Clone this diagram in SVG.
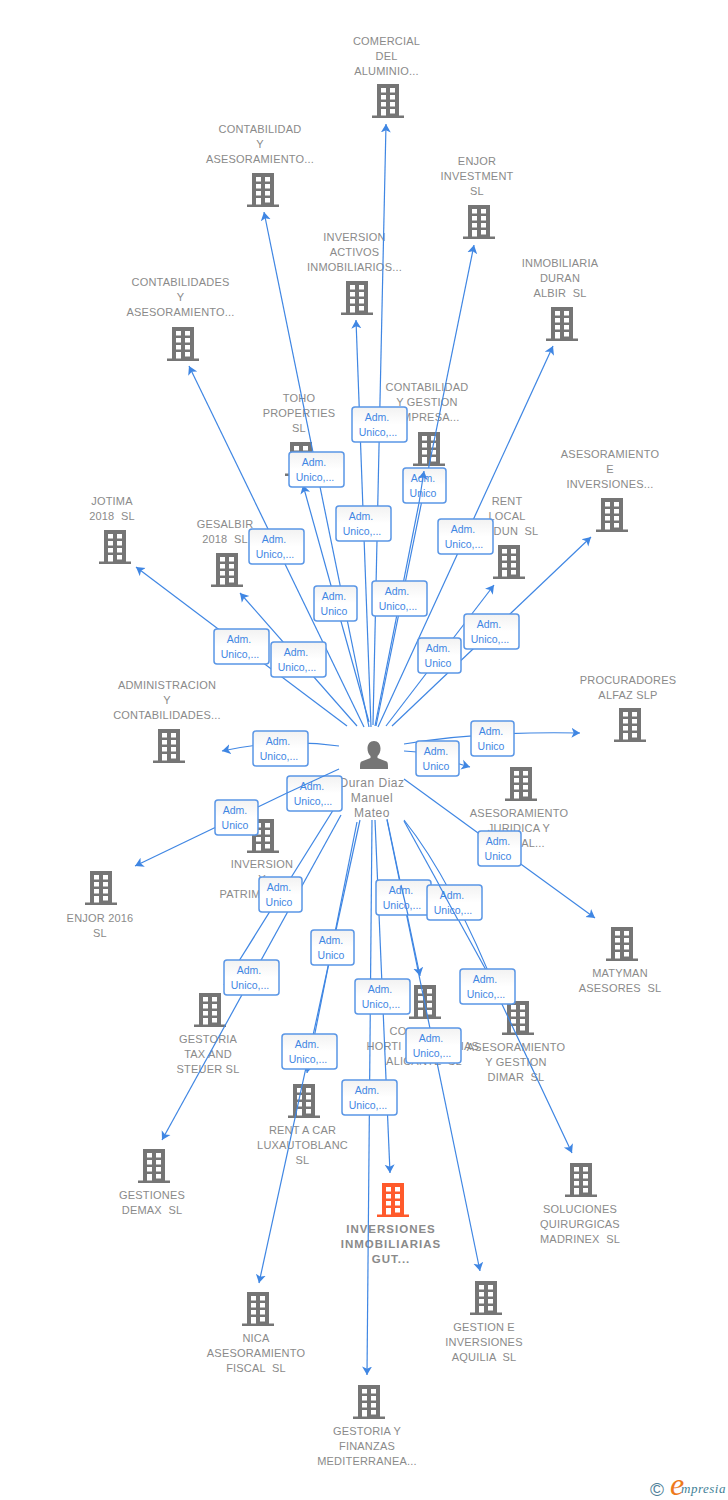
<svg xmlns="http://www.w3.org/2000/svg" width="728" height="1500" viewBox="0 0 728 1500">
<style>
.t{font-family:"Liberation Sans",Arial,sans-serif;font-size:11px;letter-spacing:.2px;fill:#8a8a8a;text-anchor:middle;white-space:pre}
.b{font-weight:bold;font-size:11.5px;letter-spacing:1px}
.p{font-size:12px;letter-spacing:.5px}
.c{fill:none;stroke:#3f86e3;stroke-width:1.2;marker-end:url(#a)}
.n{fill:none;stroke:#3f86e3;stroke-width:1.2}
.box{fill:url(#g);stroke:#5a96e6;stroke-width:1.5}
.l{font-family:"Liberation Sans",Arial,sans-serif;font-size:10.5px;fill:#3f86e3;text-anchor:middle}
.bg{fill:#757575}.w{fill:#fff}
</style>
<defs>
<linearGradient id="g" x1="0" y1="0" x2="0" y2="1"><stop offset="0" stop-color="#f2f2f2"/><stop offset=".5" stop-color="#fff"/><stop offset="1" stop-color="#fff"/></linearGradient>
<marker id="a" markerUnits="userSpaceOnUse" markerWidth="12" markerHeight="12" refX="8.500" refY="5.500" orient="auto"><path d="M0 .5L8.500 5.500L0 10.500L2.200 5.500Z" fill="#3f86e3"/></marker>
<g id="bd"><path d="M-11 0H11V31.500H16V34H-16V31.500H-11Z"/><path class="w" d="M-7 4h5v4.500h-5zM2 4h5v4.500h-5zM-7 11h5v4.500h-5zM2 11h5v4.500h-5zM-7 18h5v4.500h-5zM2 18h5v4.500h-5zM-7 25h5v6.500h-5zM2 25h5v4.500h-5z"/></g>
<g id="wb"><rect width="55" height="35" rx="3" class="box"/><text class="l" x="25" y="14">Adm.</text><text class="l" x="26" y="29">Unico,...</text></g>
<g id="nb"><rect width="43" height="35" rx="3" class="box"/><text class="l" x="20" y="14">Adm.</text><text class="l" x="20" y="29">Unico</text></g>
</defs>
<rect width="728" height="1500" fill="#fff"/>

<g id="nodes">
<g id="n1"><use href="#bd" class="bg" x="388" y="84"/><text class="t" x="386.500" y="45">COMERCIAL</text><text class="t" x="386.500" y="60">DEL</text><text class="t" x="386.500" y="75">ALUMINIO...</text></g>
<g id="n2"><use href="#bd" class="bg" x="263" y="173"/><text class="t" x="260" y="133">CONTABILIDAD</text><text class="t" x="260" y="148">Y</text><text class="t" x="260" y="163">ASESORAMIENTO...</text></g>
<g id="n3"><use href="#bd" class="bg" x="479" y="205"/><text class="t" x="477" y="165">ENJOR</text><text class="t" x="477" y="180">INVESTMENT</text><text class="t" x="477" y="195">SL</text></g>
<g id="n4"><use href="#bd" class="bg" x="357" y="281"/><text class="t" x="354.500" y="241">INVERSION</text><text class="t" x="354.500" y="256">ACTIVOS</text><text class="t" x="354.500" y="271">INMOBILIARIOS...</text></g>
<g id="n5"><use href="#bd" class="bg" x="562" y="307"/><text class="t" x="560" y="267">INMOBILIARIA</text><text class="t" x="560" y="282">DURAN</text><text class="t" x="560" y="297">ALBIR  SL</text></g>
<g id="n6"><use href="#bd" class="bg" x="183" y="327"/><text class="t" x="180.500" y="286">CONTABILIDADES</text><text class="t" x="180.500" y="301">Y</text><text class="t" x="180.500" y="316">ASESORAMIENTO...</text></g>
<g id="n7"><use href="#bd" class="bg" x="301" y="442"/><text class="t" x="299" y="402">TOHO</text><text class="t" x="299" y="417">PROPERTIES</text><text class="t" x="299" y="432">SL</text></g>
<g id="n8"><use href="#bd" class="bg" x="429" y="432"/><text class="t" x="427" y="391">CONTABILIDAD</text><text class="t" x="427" y="406">Y GESTION</text><text class="t" x="427" y="421">EMPRESA...</text></g>
<g id="n9"><use href="#bd" class="bg" x="612" y="498"/><text class="t" x="610" y="458">ASESORAMIENTO</text><text class="t" x="610" y="473">E</text><text class="t" x="610" y="488">INVERSIONES...</text></g>
<g id="n10"><use href="#bd" class="bg" x="509" y="545"/><text class="t" x="507" y="505">RENT</text><text class="t" x="507" y="520">LOCAL</text><text class="t" x="516" y="535">DUN  SL</text></g>
<g id="n11"><use href="#bd" class="bg" x="115" y="530"/><text class="t" x="112" y="505">JOTIMA</text><text class="t" x="112" y="520">2018  SL</text></g>
<g id="n12"><use href="#bd" class="bg" x="227" y="553"/><text class="t" x="225" y="528">GESALBIR</text><text class="t" x="225" y="543">2018  SL</text></g>
<g id="n13"><use href="#bd" class="bg" x="169" y="729"/><text class="t" x="167" y="689">ADMINISTRACION</text><text class="t" x="167" y="704">Y</text><text class="t" x="167" y="719">CONTABILIDADES...</text></g>
<g id="n14"><use href="#bd" class="bg" x="630" y="708"/><text class="t" x="628" y="684">PROCURADORES</text><text class="t" x="628" y="699">ALFAZ SLP</text></g>
<g id="n15"><use href="#bd" class="bg" x="521" y="767"/><text class="t" x="519" y="817">ASESORAMIENTO</text><text class="t" x="519" y="832">JURIDICA Y</text><text class="t" x="533" y="847">AL...</text></g>
<g id="n16"><use href="#bd" class="bg" x="263" y="819"/><text class="t" x="262" y="868">INVERSION</text><text class="t" x="262" y="883">Y</text><text class="t" x="240" y="898">PATRIM</text></g>
<g id="n17"><use href="#bd" class="bg" x="101" y="871"/><text class="t" x="100" y="922">ENJOR 2016</text><text class="t" x="100" y="937">SL</text></g>
<g id="n18"><use href="#bd" class="bg" x="622" y="927"/><text class="t" x="620" y="977">MATYMAN</text><text class="t" x="620" y="992">ASESORES  SL</text></g>
<g id="n19"><use href="#bd" class="bg" x="210" y="993"/><text class="t" x="208" y="1043">GESTORIA</text><text class="t" x="208" y="1058">TAX AND</text><text class="t" x="208" y="1073">STEUER SL</text></g>
<g id="n20"><use href="#bd" class="bg" x="425" y="985"/><text class="t" x="398" y="1035">CO</text><text class="t" x="384" y="1050">HORTI</text><text class="t" x="470" y="1050">IAS</text><text class="t" x="424" y="1065">ALICANTE  SL</text></g>
<g id="n21"><use href="#bd" class="bg" x="518" y="1001"/><text class="t" x="516" y="1051">ASESORAMIENTO</text><text class="t" x="516" y="1066">Y GESTION</text><text class="t" x="516" y="1081">DIMAR  SL</text></g>
<g id="n22"><use href="#bd" class="bg" x="304" y="1084"/><text class="t" x="302.500" y="1134">RENT A CAR</text><text class="t" x="302.500" y="1149">LUXAUTOBLANC</text><text class="t" x="302.500" y="1164">SL</text></g>
<g id="n23"><use href="#bd" class="bg" x="154" y="1149"/><text class="t" x="152" y="1199">GESTIONES</text><text class="t" x="152" y="1214">DEMAX  SL</text></g>
<g id="n24"><use href="#bd" class="bg" x="581" y="1163"/><text class="t" x="580" y="1213">SOLUCIONES</text><text class="t" x="580" y="1228">QUIRURGICAS</text><text class="t" x="580" y="1243">MADRINEX  SL</text></g>
<g id="n25"><use href="#bd" fill="#ff5a2b" x="393" y="1183"/><text class="t b" x="391" y="1233">INVERSIONES</text><text class="t b" x="391" y="1248">INMOBILIARIAS</text><text class="t b" x="391" y="1263">GUT...</text></g>
<g id="n26"><use href="#bd" class="bg" x="258" y="1292"/><text class="t" x="256" y="1342">NICA</text><text class="t" x="256" y="1357">ASESORAMIENTO</text><text class="t" x="256" y="1372">FISCAL  SL</text></g>
<g id="n27"><use href="#bd" class="bg" x="486" y="1281"/><text class="t" x="484" y="1331">GESTION E</text><text class="t" x="484" y="1346">INVERSIONES</text><text class="t" x="484" y="1361">AQUILIA  SL</text></g>
<g id="n28"><use href="#bd" class="bg" x="369" y="1385"/><text class="t" x="367" y="1435">GESTORIA Y</text><text class="t" x="367" y="1450">FINANZAS</text><text class="t" x="367" y="1465">MEDITERRANEA...</text></g>
<g id="center"><path class="bg" d="M374 741c4 0 6.500 3 6.500 7.500 0 3-1 5.500-3 7.500v2l9 3.500c1.500.7 1.500 3 1.500 7.500h-28c0-4.500 0-6.800 1.500-7.500l9-3.500v-2c-2-2-3-4.500-3-7.500 0-4.500 2.500-7.500 6.500-7.500z"/><text class="t p" x="372" y="787">Duran Diaz</text><text class="t p" x="372" y="802">Manuel</text><text class="t p" x="372" y="817">Mateo</text></g>
</g>

<g id="connectors">
<path class="c" d="M373 725L386 124"/>
<path class="c" d="M369 727L264 212"/>
<path class="c" d="M376 726L474 245"/>
<path class="c" d="M371 727L356 320"/>
<path class="c" d="M378 727L553 346"/>
<path class="c" d="M364 727L189 366"/>
<path class="c" d="M369 722L303 485"/>
<path class="n" d="M375 726L419 503"/>
<path class="c" d="M392 726L591 537"/>
<path class="c" d="M386 726L494 585"/>
<path class="c" d="M347 726L136 567"/>
<path class="c" d="M357 726L240 593"/>
<path class="c" d="M339 746Q281 738 222 751"/>
<path class="c" d="M404 744Q480 731 580 733"/>
<path class="c" d="M404 751L417 752L470 767"/>
<path class="c" d="M287 793L135 866"/>
<path class="c" d="M337 804L224 985"/>
<path class="c" d="M341 815L162 1140"/>
<path class="c" d="M357 822L307 1073"/>
<path class="c" d="M360 820L259 1283"/>
<path class="c" d="M372 820L367 1375"/>
<path class="c" d="M375 820L390 1173"/>
<path class="c" d="M387 819L420 976"/>
<path class="c" d="M387 820Q398 870 480 1271"/>
<path class="c" d="M404 821L497 990"/>
<path class="c" d="M404 820C440 865 470 925 500 1000L572 1153"/>
<path class="c" d="M404 779L595 918"/>
</g>

<g id="labels">
<use href="#wb" x="352" y="407"/><use href="#wb" x="289" y="452"/><use href="#nb" x="403" y="468"/>
<use href="#wb" x="336" y="506"/><use href="#wb" x="249" y="529"/><use href="#wb" x="438" y="519"/>
<use href="#nb" x="314" y="586"/><use href="#wb" x="372" y="581"/><use href="#wb" x="464" y="614"/>
<use href="#nb" x="418" y="638"/><use href="#wb" x="214" y="629"/><use href="#wb" x="271" y="642"/>
<use href="#wb" x="253" y="731"/><use href="#nb" x="471" y="721"/><use href="#nb" x="416" y="741"/>
<use href="#wb" x="287" y="776"/><use href="#nb" x="215" y="800"/><use href="#nb" x="478" y="831"/>
<use href="#nb" x="259" y="877"/><use href="#wb" x="376" y="880"/><use href="#wb" x="427" y="885"/>
<use href="#nb" x="311" y="930"/><use href="#wb" x="224" y="960"/><use href="#wb" x="355" y="979"/>
<use href="#wb" x="460" y="969"/><use href="#wb" x="406" y="1028"/><use href="#wb" x="282" y="1034"/>
<use href="#wb" x="342" y="1080"/>
</g>

<g id="connectors-over">
<path class="c" d="M419 503L424 471"/>
<path class="n" d="M339 769L287 793"/>
<path class="n" d="M401 885L408 915"/>
<path class="n" d="M439 885L458 920"/>
</g>

<g id="logo">
<text x="650" y="1496" font-family="'Liberation Sans',sans-serif" font-size="19" fill="#4f7f99">©</text>
<text x="670" y="1495" font-family="'Liberation Serif',serif" font-style="italic" font-size="32" fill="#ee7a1c">e</text>
<text x="681" y="1493" font-family="'Liberation Serif',serif" font-style="italic" font-size="13" letter-spacing=".5" fill="#3f7f97">mpresia</text>
</g>
</svg>
